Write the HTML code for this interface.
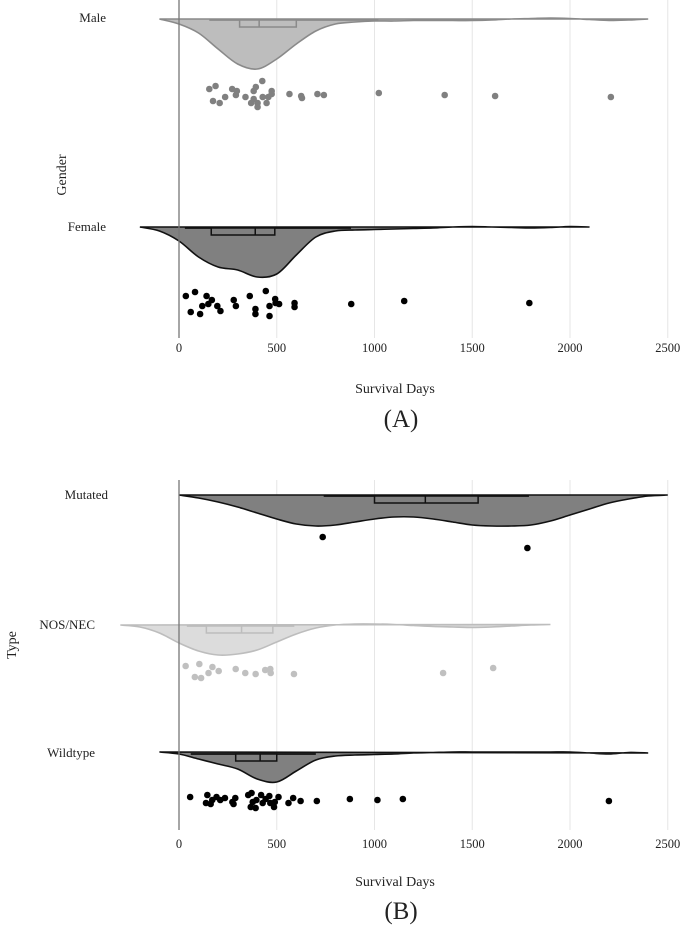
<!DOCTYPE html>
<html><head><meta charset="utf-8"><style>
html,body{margin:0;padding:0;background:#fff;}
svg{display:block;font-family:"Liberation Serif",serif;}
</style></head><body>
<svg id="chart" width="685" height="927" viewBox="0 0 685 927">
<g id="gridA"></g>
<g id="gridB"></g>
<g id="marks"></g>
<line x1="179" y1="0" x2="179" y2="338" stroke="#777" stroke-width="1.3"/>
<line x1="179" y1="480" x2="179" y2="830" stroke="#777" stroke-width="1.3"/>
<g font-size="13" fill="#222">
<text x="106" y="22" text-anchor="end">Male</text>
<text x="106" y="231" text-anchor="end">Female</text>
<text x="108" y="499" text-anchor="end">Mutated</text>
<text x="95" y="629" text-anchor="end">NOS/NEC</text>
<text x="95" y="757" text-anchor="end">Wildtype</text>
<text transform="translate(66,175) rotate(-90)" text-anchor="middle" font-size="14">Gender</text>
<text transform="translate(16,645) rotate(-90)" text-anchor="middle" font-size="14">Type</text>
<text x="395" y="393" text-anchor="middle" font-size="14">Survival Days</text>
<text x="401" y="427" text-anchor="middle" font-size="25">(A)</text>
<text x="395" y="886" text-anchor="middle" font-size="14">Survival Days</text>
<text x="401" y="919" text-anchor="middle" font-size="25">(B)</text>
</g>
<g id="ticks" font-size="12.5" fill="#222"></g>
</svg>
<script>
const tickValues = [0, 500, 1000, 1500, 2000, 2500];
const densityGrid = [-300,-200,-100,0,100,200,300,400,500,600,700,800,900,1000,1100,1200,1300,1400,1500,1600,1700,1800,1900,2000,2100,2200,2300,2400,2500];
const maleDensity = [null,null,0,5,14,30,45,50,40,25,12,5,3,2,2,1.5,1.5,1.5,1.5,1,0,-0.5,-1,-0.5,0.5,1.5,1,0,null];
const femaleDensity = [null,0,4,14,30,40,43,50,47,28,10,4,3,2.5,2,1.5,1,0,-0.5,0,0.5,1,0.5,-0.5,0,null,null,null,null];
const mutatedDensity = [null,null,null,0,3,7,12,18,24,29,31,30,27,24,22,22,24,27,30,31,31,30,26,20,14,8,4,1,0];
const nosDensity = [0,2,8,18,26,30,29,25,17,9,3,0,-1,-1,-0.5,0.5,1.5,2,2.5,2,1,0,-0.5,null,null,null,null,null,null];
const wildDensity = [null,null,-1,1,6,11,16,26,29,18,7,3,2,1.5,1,0,-0.5,-1,-1,-1,-1,-1,-1,-1,0,1,-0.5,0,null];
// box stats: [whiskerLow, q1, median, q3, whiskerHigh]
const maleBox = [155, 310, 410, 600, 1020];
const femaleBox = [30, 165, 390, 490, 880];
const mutatedBox = [740, 1000, 1260, 1530, 1790];
const nosBox = [40, 140, 320, 480, 590];
const wildBox = [60, 290, 415, 500, 700];
const maleDays = [155,187,174,208,236,272,291,296,340,369,382,393,382,402,402,426,428,448,457,474,474,565,625,629,708,741,1022,1359,1617,2209];
const maleJitter = [70,67,82,84,78,70,76,72,78,84,72,68,80,84,88,62,78,84,78,72,75,75,77,79,75,76,74,76,77,78];
const femaleDays = [35,82,141,168,150,119,60,108,196,212,280,291,362,391,391,444,463,463,492,494,512,591,591,881,1152,1792];
const femaleJitter = [69,65,69,73,77,79,85,87,79,84,73,79,69,82,87,64,79,89,72,76,77,76,80,77,74,76];
const mutatedDays = [735, 1782];
const mutatedJitter = [42, 53];
const nosDays = [34,104,81,113,151,171,203,290,339,392,441,467,469,588,1351,1607];
const nosJitter = [41,39,52,53,48,42,46,44,48,49,45,44,48,49,48,43];
const wildDays = [57,145,138,162,170,192,211,235,273,279,288,354,371,377,367,392,396,420,428,443,462,467,486,490,509,560,584,622,705,874,1015,1145,2199];
const wildJitter = [44,42,50,51,47,44,47,45,49,51,45,42,40,49,54,55,47,42,50,46,43,50,54,49,44,50,45,48,48,46,47,46,48];

const NS = "http://www.w3.org/2000/svg";
const x = v => 179 + v * 0.1955;
const marks = document.getElementById('marks');
function el(tag, attrs, parent) {
  const e = document.createElementNS(NS, tag);
  for (const k in attrs) e.setAttribute(k, attrs[k]);
  parent.appendChild(e);
  return e;
}
[[0,338,348,'gridA','a'],[480,830,844,'gridB','b']].forEach(p => {
  const g = document.getElementById(p[3]);
  tickValues.forEach(t => {
    if (t > 0) {
      const l = el('line', {x1:x(t), x2:x(t), y1:p[0], y2:p[1], stroke:'#e6e6e6', 'stroke-width':1}, g);
      
      
    }
    const tx = el('text', {x:x(t), y:p[2] + 4, 'text-anchor':'middle'}, document.getElementById('ticks'));
    tx.textContent = t;
    
    
  });
});
function smoothPath(pts) {
  let d = 'M' + pts[0][0] + ',' + pts[0][1];
  for (let i = 0; i < pts.length - 1; i++) {
    const p0 = pts[Math.max(0, i - 1)], p1 = pts[i], p2 = pts[i + 1], p3 = pts[Math.min(pts.length - 1, i + 2)];
    const c1x = p1[0] + (p2[0] - p0[0]) / 6, c1y = p1[1] + (p2[1] - p0[1]) / 6;
    const c2x = p2[0] - (p3[0] - p1[0]) / 6, c2y = p2[1] - (p3[1] - p1[1]) / 6;
    d += ' C' + c1x + ',' + c1y + ' ' + c2x + ',' + c2y + ' ' + p2[0] + ',' + p2[1];
  }
  return d;
}
function group(name, base, dens, box, days, jit, fill, stroke, dot) {
  const g = el('g', {}, marks);
  
  
  const pts = [];
  densityGrid.forEach((v, i) => { if (dens[i] !== null) pts.push([x(v), base + dens[i]]); });
  const d = smoothPath(pts) + ' Z';
  const v = el('path', {d:d, fill:fill, stroke:stroke, 'stroke-width':1.6}, g);
  
  
  const w = el('line', {x1:x(box[0]), x2:x(box[4]), y1:base + 1, y2:base + 1, stroke:stroke, 'stroke-width':1.8}, g);
  
  
  const b = el('rect', {x:x(box[1]), y:base + 1, width:x(box[3]) - x(box[1]), height:7, fill:fill, stroke:stroke, 'stroke-width':1.5}, g);
  
  
  const m = el('line', {x1:x(box[2]), x2:x(box[2]), y1:base + 1, y2:base + 8, stroke:stroke, 'stroke-width':1.5}, g);
  
  
  days.forEach((dv, i) => {
    const c = el('circle', {cx:x(dv), cy:base + jit[i], r:3.3, fill:dot}, g);
    
    
  });
}
group('male', 19, maleDensity, maleBox, maleDays, maleJitter, '#bdbdbd', '#8a8a8a', '#808080');
group('female', 227, femaleDensity, femaleBox, femaleDays, femaleJitter, '#808080', '#111', '#000');
group('mutated', 495, mutatedDensity, mutatedBox, mutatedDays, mutatedJitter, '#808080', '#111', '#000');
group('nos-nec', 625, nosDensity, nosBox, nosDays, nosJitter, '#dcdcdc', '#bdbdbd', '#c0c0c0');
group('wildtype', 753, wildDensity, wildBox, wildDays, wildJitter, '#808080', '#111', '#000');
</script>
</body></html>
